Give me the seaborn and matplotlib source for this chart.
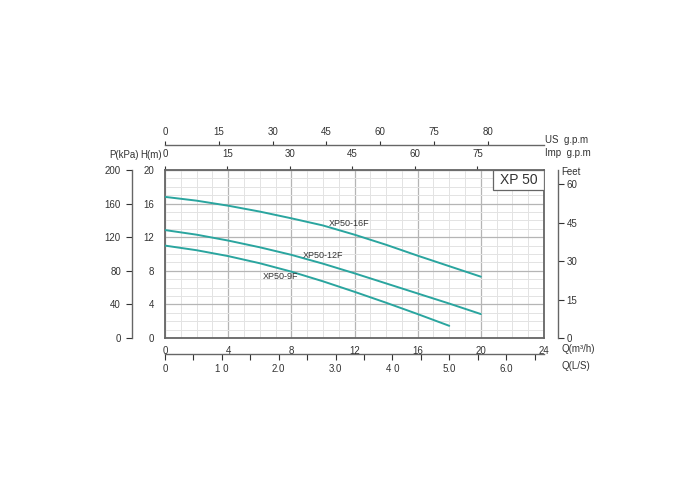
import numpy as np
import pandas as pd
import matplotlib
matplotlib.use("Agg")
import matplotlib.pyplot as plt
import seaborn as sns

# pump curves, flow Q in m3/h, head H in m
q_16f = [0, 2, 4, 6, 8, 10, 12, 14, 16, 18, 20]
h_16f = [16.8, 16.35, 15.75, 15.05, 14.25, 13.4, 12.3, 11.1, 9.8, 8.55, 7.3]
q_12f = [0, 2, 4, 6, 8, 10, 12, 14, 16, 18, 20]
h_12f = [12.85, 12.3, 11.6, 10.8, 9.9, 8.85, 7.7, 6.5, 5.3, 4.1, 2.85]
q_9f = [0, 2, 4, 6, 8, 10, 12, 14, 16, 18]
h_9f = [11.0, 10.45, 9.75, 8.9, 7.9, 6.75, 5.5, 4.2, 2.85, 1.45]
models = ["XP50-16F", "XP50-12F", "XP50-9F"]
label_pos = [(10.4, 13.6), (8.7, 9.8), (6.2, 7.3)]

# axis ticks
q_ticks = [0, 4, 8, 12, 16, 20, 24]
h_ticks = [0, 4, 8, 12, 16, 20]
kpa_ticks = [0, 40, 80, 120, 160, 200]
feet_ticks = [0, 15, 30, 45, 60]
us_ticks = [0, 15, 30, 45, 60, 75, 90]
us_labels = ["0", "15", "30", "45", "60", "75", "80"]
imp_ticks = [0, 15, 30, 45, 60, 75]
ls_ticks = [0, 1, 2, 3, 4, 5, 6]
ls_labels = ["0", "1 0", "2.0", "3.0", "4 0", "5.0", "6.0"]
ls_minor = [0.5, 1.5, 2.5, 3.5, 4.5, 5.5, 6.5]

US_PER_M3H = 4.403
IMP_PER_M3H = 3.79
LS_PER_M3H = 1 / 3.6
KPA_PER_M = 10.0
FT_PER_M = 3.281

sns.set_style("white")
plt.rcParams["font.family"] = ["Liberation Sans", "DejaVu Sans"]
plt.rcParams["font.size"] = 7

txt = "#333333"
spine_c = "#666666"
teal = "#2aa59f"

fig = plt.figure(figsize=(7, 5), dpi=100)
ax = fig.add_axes([165 / 700, 1 - 338 / 500, 379 / 700, 168 / 500])

frames = []
for name, q, h in zip(models, [q_16f, q_12f, q_9f], [h_16f, h_12f, h_9f]):
    frames.append(pd.DataFrame({"Q": q, "H": h, "model": name}))
df = pd.concat(frames)
sns.lineplot(data=df, x="Q", y="H", units="model", estimator=None,
             color=teal, linewidth=1.4, ax=ax, legend=False, zorder=4)

for name, (x, y) in zip(models, label_pos):
    ax.text(x, y, name, fontsize=6.5, color=txt, ha="left", va="center", zorder=5)

ax.set_xlim(0, 24)
ax.set_ylim(0, 20)
ax.set_xticks(q_ticks)
ax.set_yticks(h_ticks)
ax.set_xticks(np.arange(0, 25, 1), minor=True)
ax.set_yticks(np.arange(0, 21, 1), minor=True)
ax.grid(which="major", color="#b5b5b5", linewidth=0.9)
ax.grid(which="minor", color="#e3e3e3", linewidth=0.7)
ax.set_axisbelow(True)
ax.tick_params(which="both", length=0, colors=txt)
ax.tick_params(axis="x", pad=6)
ax.tick_params(axis="y", pad=8)
ax.set_xlabel("")
ax.set_ylabel("")
for s in ax.spines.values():
    s.set_visible(True)
    s.set_color(spine_c)
    s.set_linewidth(1.3)

# model box
ax.add_patch(plt.Rectangle((20.75, 17.6), 3.25, 2.4, facecolor="white",
                           edgecolor=spine_c, linewidth=0.9, zorder=3))
ax.text(22.4, 18.8, "XP 50", fontsize=10, color=txt, ha="center", va="center", zorder=5)

# secondary scales
imp = ax.secondary_xaxis("top", functions=(lambda q: q * IMP_PER_M3H,
                                            lambda g: g / IMP_PER_M3H))
imp.set_xticks(imp_ticks)
imp.tick_params(length=3, width=0.8, colors=txt, pad=5, direction="out")
imp.spines["top"].set_color(spine_c)

us = ax.secondary_xaxis((338 - 145) / 168, functions=(lambda q: q * US_PER_M3H,
                                                        lambda g: g / US_PER_M3H))
us.set_xticks(us_ticks, us_labels)
us.tick_params(length=3, width=0.8, colors=txt, pad=3, direction="out")
us.spines["top"].set_color(spine_c)
us.spines["top"].set_linewidth(1.0)

ls = ax.secondary_xaxis((338 - 354) / 168, functions=(lambda q: q * LS_PER_M3H,
                                                        lambda v: v / LS_PER_M3H))
ls.set_xticks(ls_ticks, ls_labels)
ls.set_xticks(ls_minor, minor=True)
ls.tick_params(which="both", length=4, width=0.8, colors=txt, pad=3, direction="out")
ls.spines["bottom"].set_color(spine_c)
ls.spines["bottom"].set_linewidth(1.0)

kpa = ax.secondary_yaxis((132 - 165) / 379, functions=(lambda h: h * KPA_PER_M,
                                                         lambda p: p / KPA_PER_M))
kpa.set_yticks(kpa_ticks)
kpa.tick_params(length=4, width=0.8, colors=txt, pad=4, direction="out")
kpa.spines["left"].set_color(spine_c)
kpa.spines["left"].set_linewidth(1.0)

feet = ax.secondary_yaxis((558 - 165) / 379, functions=(lambda h: h * FT_PER_M,
                                                          lambda f: f / FT_PER_M))
feet.set_yticks(feet_ticks)
feet.tick_params(length=4, width=0.8, colors=txt, pad=2, direction="out")
feet.spines["right"].set_color(spine_c)
feet.spines["right"].set_linewidth(1.0)

# axis captions
def cap(x, y, s, ha="left"):
    fig.text(x / 700, 1 - y / 500, s, fontsize=7, color=txt, ha=ha, va="center")

cap(124, 155, "P(kPa)", ha="center")
cap(151, 155, "H(m)", ha="center")
cap(545, 140, "US  g.p.m")
cap(545, 153, "Imp  g.p.m")
cap(561, 172, "Feet")
cap(562, 349, "Q(m³/h)")
cap(562, 366, "Q(L/S)")

fig.savefig("out.png", dpi=100)
